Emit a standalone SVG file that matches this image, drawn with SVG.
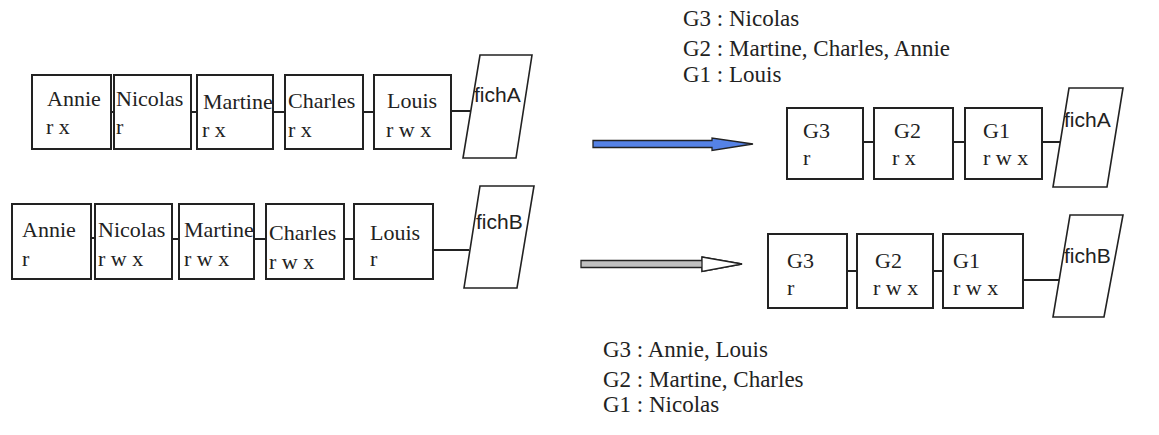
<svg xmlns="http://www.w3.org/2000/svg" width="1159" height="435" viewBox="0 0 1159 435">
<style>
.box{fill:#fff;stroke:#222;stroke-width:2}
.file{fill:#fff;stroke:#222;stroke-width:1.6}
.ln{stroke:#222;stroke-width:2;fill:none}
.t{font-family:"Liberation Serif","Times New Roman",serif;font-size:22px;fill:#222}
.n{font-family:"Liberation Serif","Times New Roman",serif;font-size:23px;fill:#222}
.f{font-family:"Liberation Sans",Arial,sans-serif;font-size:21px;fill:#222}
</style>
<rect width="1159" height="435" fill="#fff"/>
<g id="connectors">
<line class="ln" x1="111" y1="112" x2="114" y2="112"/>
<line class="ln" x1="191" y1="112" x2="197" y2="112"/>
<line class="ln" x1="273" y1="112" x2="285" y2="112"/>
<line class="ln" x1="363" y1="112" x2="374" y2="112"/>
<line class="ln" x1="451" y1="111" x2="470" y2="111"/>
<line class="ln" x1="88" y1="238" x2="95" y2="238"/>
<line class="ln" x1="172" y1="239" x2="179" y2="239"/>
<line class="ln" x1="254" y1="239" x2="266" y2="239"/>
<line class="ln" x1="344" y1="239" x2="354" y2="239"/>
<line class="ln" x1="433" y1="250" x2="469" y2="250"/>
<line class="ln" x1="861" y1="142" x2="874" y2="142"/>
<line class="ln" x1="953" y1="142" x2="965" y2="142"/>
<line class="ln" x1="1042" y1="142" x2="1061" y2="142"/>
<line class="ln" x1="842" y1="271" x2="857" y2="271"/>
<line class="ln" x1="933" y1="271" x2="943" y2="271"/>
<line class="ln" x1="1023" y1="280" x2="1061" y2="280"/>
<g id="arrow-blue">
<path d="M593,140.5 H712 V138 L753,144 L712,150.5 V147.5 H593 Z" fill="#5582e6" stroke="#222" stroke-width="1.3"/>
</g>
<g id="arrow-grey">
<path d="M581,260.5 H702 V257 L742,264 L702,271.5 V267.5 H581 Z" fill="#c0c0c0" stroke="#222" stroke-width="1.3"/>
<path d="M702,257 L742,264 L702,271.5 Z" fill="#fff" stroke="#222" stroke-width="1.3"/>
</g>
</g>
<g id="a-annie"><rect class="box" x="32" y="75" width="79" height="74"/><text class="t" x="47" y="106">Annie</text><text class="t" x="46" y="134">r x</text></g>
<g id="a-nicolas"><rect class="box" x="114" y="75" width="77" height="74"/><text class="t" x="116" y="106">Nicolas</text><text class="t" x="116" y="134">r</text></g>
<g id="a-martine"><rect class="box" x="197" y="75" width="76" height="74"/><text class="t" x="203" y="109">Martine</text><text class="t" x="202" y="137">r x</text></g>
<g id="a-charles"><rect class="box" x="285" y="75" width="78" height="74"/><text class="t" x="288" y="108">Charles</text><text class="t" x="288" y="137">r x</text></g>
<g id="a-louis"><rect class="box" x="374" y="75" width="77" height="74"/><text class="t" x="387" y="108">Louis</text><text class="t" x="386" y="137">r w x</text></g>
<g id="a-fichA"><polygon class="file" points="480,55 532,55 516,158 463,158"/><text class="f" x="474" y="102">fichA</text></g>
<g id="b-annie"><rect class="box" x="12" y="204" width="79" height="75"/><text class="t" x="22" y="237">Annie</text><text class="t" x="22" y="266">r</text></g>
<g id="b-nicolas"><rect class="box" x="95" y="204" width="77" height="75"/><text class="t" x="98" y="237">Nicolas</text><text class="t" x="98" y="266">r w x</text></g>
<g id="b-martine"><rect class="box" x="179" y="204" width="75" height="75"/><text class="t" x="184" y="237">Martine</text><text class="t" x="184" y="266">r w x</text></g>
<g id="b-charles"><rect class="box" x="266" y="204" width="78" height="75"/><text class="t" x="269" y="240">Charles</text><text class="t" x="269" y="269">r w x</text></g>
<g id="b-louis"><rect class="box" x="354" y="204" width="79" height="75"/><text class="t" x="370" y="240">Louis</text><text class="t" x="370" y="266">r</text></g>
<g id="b-fichB"><polygon class="file" points="480,186 534,186 517,288 464,288"/><text class="f" x="476" y="229">fichB</text></g>
<g id="legend-top">
<text class="n" x="683" y="26">G3 : Nicolas</text>
<text class="n" x="683" y="56">G2 : Martine, Charles, Annie</text>
<text class="n" x="683" y="82">G1 : Louis</text>
</g>
<g id="ra-g3"><rect class="box" x="787" y="108" width="76" height="71"/><text class="t" x="803" y="138">G3</text><text class="t" x="803" y="165">r</text></g>
<g id="ra-g2"><rect class="box" x="874" y="108" width="79" height="71"/><text class="t" x="894" y="138">G2</text><text class="t" x="892" y="165">r x</text></g>
<g id="ra-g1"><rect class="box" x="965" y="108" width="77" height="71"/><text class="t" x="983" y="138">G1</text><text class="t" x="983" y="165">r w x</text></g>
<g id="ra-fichA"><polygon class="file" points="1069,88 1123,88 1107,187 1053,187"/><text class="f" x="1064" y="127">fichA</text></g>
<g id="rb-g3"><rect class="box" x="768" y="234" width="79" height="74"/><text class="t" x="787" y="268">G3</text><text class="t" x="787" y="295">r</text></g>
<g id="rb-g2"><rect class="box" x="857" y="234" width="76" height="74"/><text class="t" x="875" y="268">G2</text><text class="t" x="873" y="295">r w x</text></g>
<g id="rb-g1"><rect class="box" x="943" y="234" width="80" height="74"/><text class="t" x="953" y="268">G1</text><text class="t" x="953" y="295">r w x</text></g>
<g id="rb-fichB"><polygon class="file" points="1070,215 1123,215 1104,317 1053,317"/><text class="f" x="1064" y="263">fichB</text></g>
<g id="legend-bottom">
<text class="n" x="603" y="357">G3 : Annie, Louis</text>
<text class="n" x="603" y="387">G2 : Martine, Charles</text>
<text class="n" x="603" y="412">G1 : Nicolas</text>
</g>
</svg>
